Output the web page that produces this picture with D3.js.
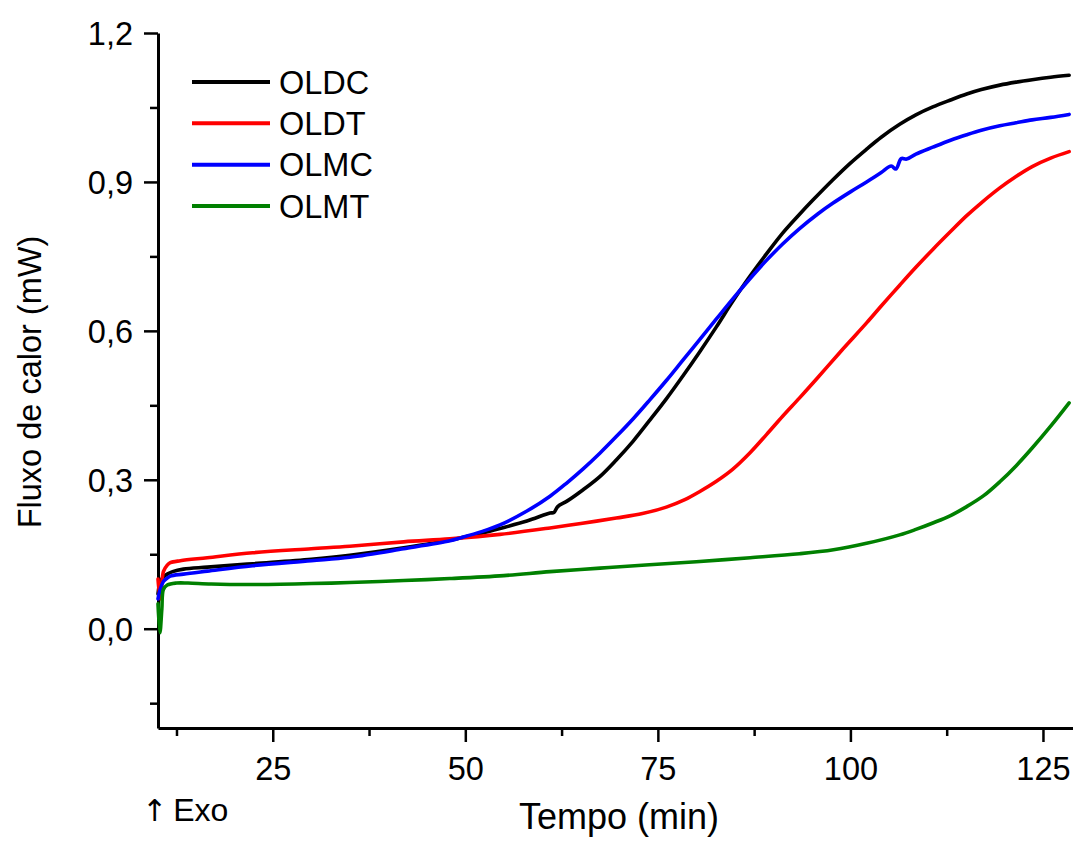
<!DOCTYPE html>
<html>
<head>
<meta charset="utf-8">
<script src="https://cdn.jsdelivr.net/npm/d3@7/dist/d3.min.js"></script>
<style>
  html, body { margin: 0; padding: 0; background: #fff; }
  svg { display: block; }
  text { font-family: "Liberation Sans", Arial, sans-serif; fill: #000; }
</style>
</head>
<body>
<svg id="chart" width="1073" height="841"></svg>
<script>
// ---- Data ----
const seriesNames = ["OLDC", "OLDT", "OLMC", "OLMT"];
const seriesColors = ["#000000", "#ff0000", "#0000ff", "#008000"];

const oldcTime = [10.1, 10.4, 10.8, 11.3, 12, 13.4, 16.5, 22.4, 30, 35, 42, 48, 49.4, 52, 54.5, 58, 61, 61.5, 62.0, 63.2, 65.3, 67.5, 69.6, 71.8, 73.9, 76.1, 78.2, 80.4, 82.6, 84.7, 86.9, 89.1, 91.2, 93.4, 95.1, 97.7, 100, 102.1, 104, 106.4, 108.5, 110.7, 113, 115.1, 117, 119.4, 121.5, 123.6, 126, 128.4];
const oldcValue = [0.07, 0.095, 0.104, 0.110, 0.115, 0.120, 0.124, 0.131, 0.140, 0.148, 0.163, 0.178, 0.183, 0.192, 0.202, 0.217, 0.233, 0.234, 0.246, 0.257, 0.280, 0.307, 0.340, 0.378, 0.419, 0.463, 0.508, 0.557, 0.608, 0.659, 0.709, 0.755, 0.797, 0.835, 0.863, 0.904, 0.938, 0.966, 0.990, 1.016, 1.035, 1.051, 1.065, 1.077, 1.086, 1.095, 1.101, 1.106, 1.111, 1.115];

const oldtTime = [10.1, 10.4, 10.8, 11.3, 11.7, 13, 16.5, 22.4, 30, 35, 42, 48, 54.5, 61, 65, 69.6, 73, 76.1, 78.5, 80.4, 82.6, 84.7, 87, 89.1, 91.2, 93.4, 95.6, 98.6, 100, 102.1, 104, 106.4, 108.5, 110.7, 113, 115.1, 117, 119.4, 121.5, 123.6, 126, 128.4];
const oldtValue = [0.10, 0.06, 0.115, 0.128, 0.133, 0.137, 0.143, 0.153, 0.161, 0.166, 0.175, 0.181, 0.190, 0.203, 0.212, 0.223, 0.232, 0.245, 0.260, 0.276, 0.297, 0.321, 0.355, 0.391, 0.428, 0.465, 0.503, 0.556, 0.580, 0.616, 0.650, 0.692, 0.728, 0.764, 0.800, 0.832, 0.858, 0.888, 0.911, 0.931, 0.948, 0.961];

const olmcTime = [10.1, 10.4, 10.8, 11.3, 11.7, 13.4, 16.5, 22.4, 30, 35, 42, 48, 49.4, 52, 54.5, 58, 61, 63.2, 65.3, 67.5, 69.6, 71.8, 73.9, 76.1, 78.2, 80.4, 82.6, 84.7, 86.9, 89.1, 91.2, 93.4, 95.8, 97.7, 100, 102.1, 104, 105.3, 105.9, 106.6, 107.3, 108.5, 110.7, 113, 115.1, 117, 119.4, 121.5, 123.6, 126, 128.4];
const olmcValue = [0.06, 0.08, 0.095, 0.102, 0.106, 0.110, 0.116, 0.127, 0.137, 0.144, 0.161, 0.177, 0.183, 0.195, 0.209, 0.237, 0.267, 0.294, 0.322, 0.354, 0.387, 0.423, 0.460, 0.500, 0.540, 0.582, 0.624, 0.664, 0.704, 0.742, 0.775, 0.806, 0.836, 0.857, 0.880, 0.900, 0.919, 0.932, 0.926, 0.947, 0.946, 0.956, 0.970, 0.984, 0.995, 1.004, 1.013, 1.019, 1.025, 1.030, 1.036];

const olmtTime = [10.1, 10.35, 10.6, 10.8, 11.3, 12.5, 14, 17, 22.4, 30, 35, 42, 48, 55, 61, 67.5, 73.9, 80, 87, 93.4, 97.8, 102.1, 106.4, 108.5, 110.7, 113, 115.1, 117.3, 119.4, 121.5, 123.6, 126, 128.4];
const olmtValue = [0.05, -0.008, 0.04, 0.079, 0.088, 0.092, 0.092, 0.090, 0.089, 0.091, 0.093, 0.097, 0.101, 0.107, 0.115, 0.122, 0.129, 0.135, 0.143, 0.151, 0.159, 0.172, 0.189, 0.200, 0.213, 0.228, 0.246, 0.268, 0.296, 0.328, 0.364, 0.408, 0.455];

const seriesTimes = [oldcTime, oldtTime, olmcTime, olmtTime];
const seriesValues = [oldcValue, oldtValue, olmcValue, olmtValue];

const xMajorTicks = [25, 50, 75, 100, 125];
const xMinorTicks = [12.5, 37.5, 62.5, 87.5, 112.5];
const yMajorTicks = [0, 0.3, 0.6, 0.9, 1.2];
const yMinorTicks = [-0.15, 0.15, 0.45, 0.75, 1.05];

const xTitle = "Tempo (min)";
const yTitle = "Fluxo de calor (mW)";
const exoArrow = "\u2191";
const exoLabel = "Exo";

// ---- Layout ----
const svg = d3.select("#chart");
const plotLeft = 158, plotRight = 1073, plotTop = 33, plotBottom = 728;

const x = d3.scaleLinear().domain([10.1, 128.9]).range([plotLeft, plotRight]);
const y = d3.scaleLinear().domain([-0.2, 1.2]).range([plotBottom, plotTop]);

const locale = d3.formatLocale({decimal: ",", thousands: ".", grouping: [3], currency: ["", ""]});
const fmtY = locale.format(".1f");

// minor ticks
svg.append("g").attr("transform", `translate(0,${plotBottom})`)
  .call(d3.axisBottom(x).tickValues(xMinorTicks).tickSize(8).tickFormat(""))
  .call(g => g.select(".domain").remove())
  .call(g => g.selectAll("line").attr("stroke", "#000").attr("stroke-width", 2.5));
svg.append("g").attr("transform", `translate(${plotLeft},0)`)
  .call(d3.axisLeft(y).tickValues(yMinorTicks).tickSize(8).tickFormat(""))
  .call(g => g.select(".domain").remove())
  .call(g => g.selectAll("line").attr("stroke", "#000").attr("stroke-width", 2.5));

// major x axis
const gx = svg.append("g").attr("transform", `translate(0,${plotBottom})`)
  .call(d3.axisBottom(x).tickValues(xMajorTicks).tickSize(14).tickSizeOuter(0).tickPadding(0).tickFormat(d3.format("d")));
gx.select(".domain").attr("stroke", "#000").attr("stroke-width", 3);
gx.selectAll(".tick line").attr("stroke", "#000").attr("stroke-width", 2.5);
gx.selectAll(".tick text").attr("y", 52).attr("dy", 0)
  .attr("font-size", 32.5).attr("font-family", "Liberation Sans, Arial, sans-serif").attr("fill", "#000");

// major y axis
const gy = svg.append("g").attr("transform", `translate(${plotLeft},0)`)
  .call(d3.axisLeft(y).tickValues(yMajorTicks).tickSize(14).tickSizeOuter(0).tickPadding(11).tickFormat(fmtY));
gy.select(".domain").attr("stroke", "#000").attr("stroke-width", 3);
gy.selectAll(".tick line").attr("stroke", "#000").attr("stroke-width", 2.5);
gy.selectAll(".tick text").attr("dy", "0.36em")
  .attr("font-size", 32.5).attr("font-family", "Liberation Sans, Arial, sans-serif").attr("fill", "#000");

// ---- Lines ----
const line = d3.line().x(d => x(d[0])).y(d => y(d[1])).curve(d3.curveCatmullRom.alpha(0.5));
seriesNames.forEach((name, i) => {
  const pts = seriesTimes[i].map((t, k) => [t, seriesValues[i][k]]);
  svg.append("path").datum(pts)
    .attr("fill", "none")
    .attr("stroke", seriesColors[i])
    .attr("stroke-width", 3.6)
    .attr("stroke-linejoin", "round")
    .attr("stroke-linecap", "round")
    .attr("d", line);
});

// ---- Legend ----
const legend = svg.append("g");
const legendY = d3.scalePoint().domain(seriesNames).range([82, 206]);
seriesNames.forEach((name, i) => {
  const yy = legendY(name);
  legend.append("line").attr("x1", 192).attr("x2", 270).attr("y1", yy).attr("y2", yy)
    .attr("stroke", seriesColors[i]).attr("stroke-width", 4);
  legend.append("text").attr("x", 279).attr("y", yy).attr("dy", "0.36em")
    .attr("font-size", 32.5).text(name);
});

// ---- Titles ----
svg.append("text").attr("x", 619).attr("y", 829).attr("text-anchor", "middle")
  .attr("font-size", 36).text(xTitle);
svg.append("text").attr("transform", "translate(41,382) rotate(-90)").attr("text-anchor", "middle")
  .attr("font-size", 32.5).text(yTitle);
const exo = svg.append("text").attr("x", 142).attr("y", 821).attr("font-size", 32);
exo.append("tspan").attr("font-family", "DejaVu Sans, sans-serif").attr("font-size", 30).text(exoArrow);
exo.append("tspan").attr("dx", 6).text(exoLabel);
</script>
</body>
</html>
